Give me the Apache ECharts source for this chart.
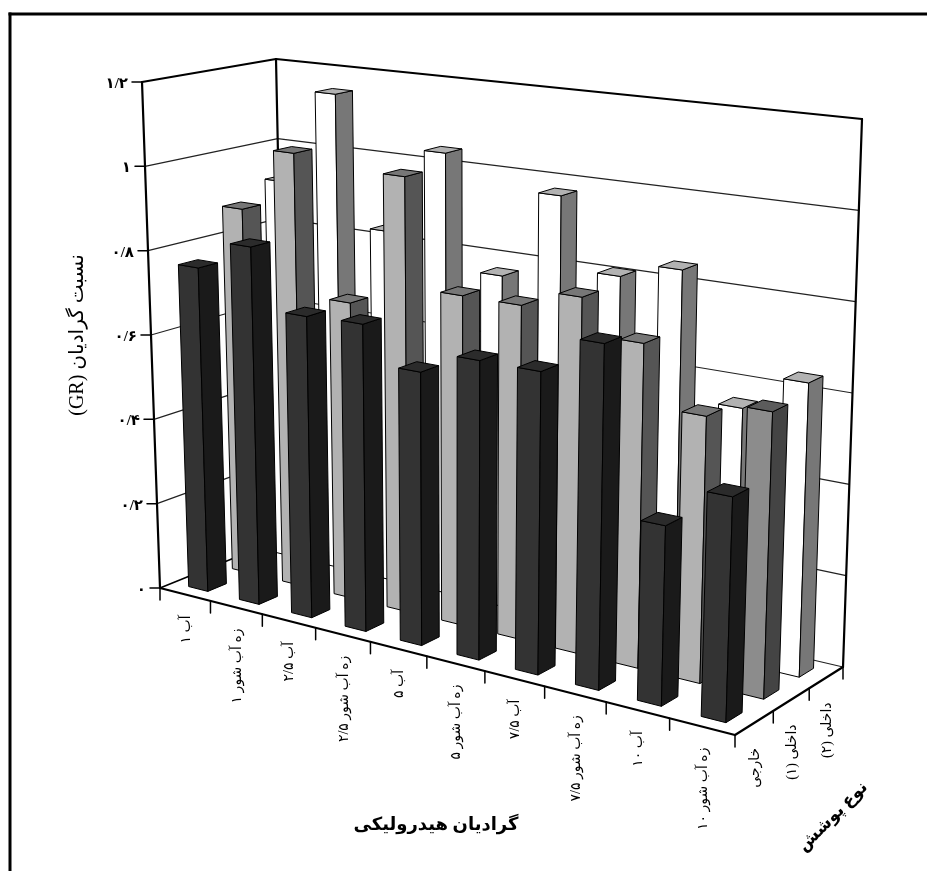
<!DOCTYPE html>
<html dir="rtl"><head><meta charset="utf-8">
<style>html,body{margin:0;padding:0;background:#fff}#c{position:absolute;left:0;top:0;width:927px;height:871px}</style>
<script src="https://cdn.jsdelivr.net/npm/echarts@6/dist/echarts.min.js"></script>
</head><body><div id="c"></div>
<script>
const categories = ['آب ۱','زه آب شور ۱','آب ۲/۵','زه آب شور ۲/۵','آب ۵','زه آب شور ۵','آب ۷/۵','زه آب شور ۷/۵','آب ۱۰','زه آب شور ۱۰'];
const rows = ['خارجی','داخلی (۱)','داخلی (۲)'];
const frontRow = [0.765,0.835,0.695,0.70,0.615,0.665,0.665,0.75,0.385,0.475];
const middleRow = [0.878,1.03,0.695,1.01,0.755,0.755,0.795,0.715,0.58,0.615];
const backRow = [0.92,1.15,0.835,1.04,0.77,0.975,0.81,0.845,0.56,0.64];
const valueTicks = [0,0.2,0.4,0.6,0.8,1,1.2];
const valueTickLabels = ['۰','۰/۲','۰/۴','۰/۶','۰/۸','۱','۱/۲'];
const xTitle = 'گرادیان هیدرولیکی';
const yTitle = 'نسبت گرادیان (GR)';
const zTitle = 'نوع پوشش';

// box corners on screen: [x,y] for (front|back)(left|right)(bottom|top)
const C = {
  flb:[160,588], frb:[735,735], blb:[286,537], brb:[843,667],
  flt:[142,82],  frt:[753,159], blt:[276,59],  brt:[862,119]
};
const sU = u => 0.866*u/(1-0.134*u);
const sW = w => 1.098*w/(1+0.098*w);
const mix=(a,b,t)=>[a[0]+(b[0]-a[0])*t,a[1]+(b[1]-a[1])*t];
function cube(u,v,w){
  const s=sU(u),t=sW(w);
  const bot=mix(mix(C.flb,C.frb,s),mix(C.blb,C.brb,s),t);
  const top=mix(mix(C.flt,C.frt,s),mix(C.blt,C.brt,s),t);
  return mix(bot,top,v);
}
// value → screen, through the chart's own cartesian axes
function projector(params,api){
  const cs=params.coordSys;
  return (xv,val,depth)=>{
    const p=api.coord([xv,val]);
    return cube((p[0]-cs.x)/cs.width,(cs.y+cs.height-p[1])/cs.height,depth);
  };
}
const FONT='"Liberation Serif","DejaVu Sans"';
const poly=(pts,fill,stroke,lw)=>({type:'polygon',shape:{points:pts},style:{fill:fill,stroke:stroke||'#000',lineWidth:lw==null?1:lw,lineJoin:'round'}});
const line=(a,b,w,c)=>({type:'line',shape:{x1:a[0],y1:a[1],x2:b[0],y2:b[1]},style:{stroke:c||'#000',lineWidth:w,lineCap:'round'}});
const txt=(s,x,y,size,rot,align,bold)=>({type:'text',x:x,y:y,rotation:rot||0,style:{text:s,x:0,y:0,align:align||'center',verticalAlign:'middle',fill:'#000',font:(bold?'bold ':'')+size+'px '+FONT}});

function barRenderer(rowIdx,faces){
  return function(params,api){
    const P=projector(params,api);
    const i=api.value(0),val=api.value(1);
    const pal=(faces.special&&faces.special[i])||faces;
    const x0=i+0.31,x1=i+0.69,d0=(rowIdx+0.29)/3,d1=(rowIdx+0.71)/3;
    const a=P(x0,0,d0),b=P(x1,0,d0),c=P(x1,0,d1);
    const at=P(x0,val,d0),bt=P(x1,val,d0),ct=P(x1,val,d1),dt=P(x0,val,d1);
    return {type:'group',children:[
      poly([a,b,bt,at],pal.front),
      poly([b,c,ct,bt],pal.side),
      poly([at,bt,ct,dt],pal.top)
    ]};
  };
}
function frameRenderer(params,api){
  const P=projector(params,api);
  const ch=[];
  valueTicks.slice(1,-1).forEach(v=>{
    ch.push(line(P(0,v,0),P(0,v,1),1.2,'#222'));
    ch.push(line(P(0,v,1),P(10,v,1),1.2,'#222'));
  });
  ch.push(line(P(0,0,0),P(0,0,1),1.6));
  ch.push(line(P(0,0,1),P(10,0,1),1.2,'#222'));
  ch.push(line(P(10,0,0),P(10,0,1),2.2));
  ch.push(line(P(0,0,0),P(10,0,0),2.2));
  ch.push(line(P(0,0,0),P(0,1.2,0),2.2));
  ch.push(line(P(0,1.2,0),P(0,1.2,1),2.2));
  ch.push(line(P(0,0,1),P(0,1.2,1),2.2));
  ch.push(line(P(0,1.2,1),P(10,1.2,1),2.2));
  ch.push(line(P(10,0,1),P(10,1.2,1),2.2));
  return {type:'group',children:ch};
}
function annotationRenderer(params,api){
  const P=projector(params,api);
  const ch=[];
  valueTicks.forEach((v,i)=>{
    const p=P(0,v,0);
    ch.push(line(p,[p[0]-10,p[1]],1.5));
    ch.push(txt(valueTickLabels[i],p[0]-14,p[1]+2,15,0,'right',true));
  });
  for(let i=0;i<=10;i++){
    const p=P(i,0,0);
    ch.push(line(p,[p[0],p[1]+12],1.5));
  }
  categories.forEach((s,i)=>{
    const p=P(i+0.5,0,0);
    ch.push(txt(s,p[0]+1,p[1]+21,14,Math.PI/2,'right',false));
  });
  for(let k=1;k<=3;k++){
    const p=P(10,0,k/3);
    ch.push(line(p,[p[0],p[1]+12],1.5));
  }
  rows.forEach((s,k)=>{
    const p=P(10,0,(k+0.5)/3);
    ch.push(txt(s,p[0]+1,p[1]+25,14,Math.PI/2,'right',false));
  });
  ch.push(txt(xTitle,436,825,18,0,'center',true));
  ch.push(txt(yTitle,78,335,20,Math.PI/2,'center',false));
  ch.push(txt(zTitle,833,817,17,Math.PI/4,'center',true));
  return {type:'group',children:ch};
}
const palettes=[
  {front:'#333333',side:'#1a1a1a',top:'#2b2b2b'},
  {front:'#b2b2b2',side:'#555555',top:'#777777',special:{9:{front:'#8c8c8c',side:'#444444',top:'#5c5c5c'}}},
  {front:'#ffffff',side:'#777777',top:'#b2b2b2'}
];
const rowData=[frontRow,middleRow,backRow];
const series=[{type:'custom',coordinateSystem:'cartesian2d',data:[[0,0]],renderItem:frameRenderer,silent:true,clip:false,z:1}];
[2,1,0].forEach(r=>{
  series.push({type:'custom',coordinateSystem:'cartesian2d',clip:false,silent:true,z:2+(2-r),
    data:rowData[r].map((v,i)=>[i,v]),renderItem:barRenderer(r,palettes[r]),
    encode:{x:0,y:1},animation:false});
});
series.push({type:'custom',coordinateSystem:'cartesian2d',data:[[0,0]],renderItem:annotationRenderer,silent:true,clip:false,z:10});
const chart=echarts.init(document.getElementById('c'),null,{renderer:'canvas',width:927,height:871});
chart.setOption({
  animation:false,backgroundColor:'#fff',
  grid:{left:0,right:0,top:0,bottom:0},
  xAxis:{type:'value',min:0,max:10,show:false},
  yAxis:{type:'value',min:0,max:1.2,show:false},
  tooltip:{show:false},
  graphic:[
    {type:'line',shape:{x1:8.5,y1:14,x2:927,y2:14},style:{stroke:'#000',lineWidth:3},silent:true,z:0},
    {type:'line',shape:{x1:10,y1:12.5,x2:10,y2:871},style:{stroke:'#000',lineWidth:3},silent:true,z:0}
  ],
  series:series
});
</script></body></html>
